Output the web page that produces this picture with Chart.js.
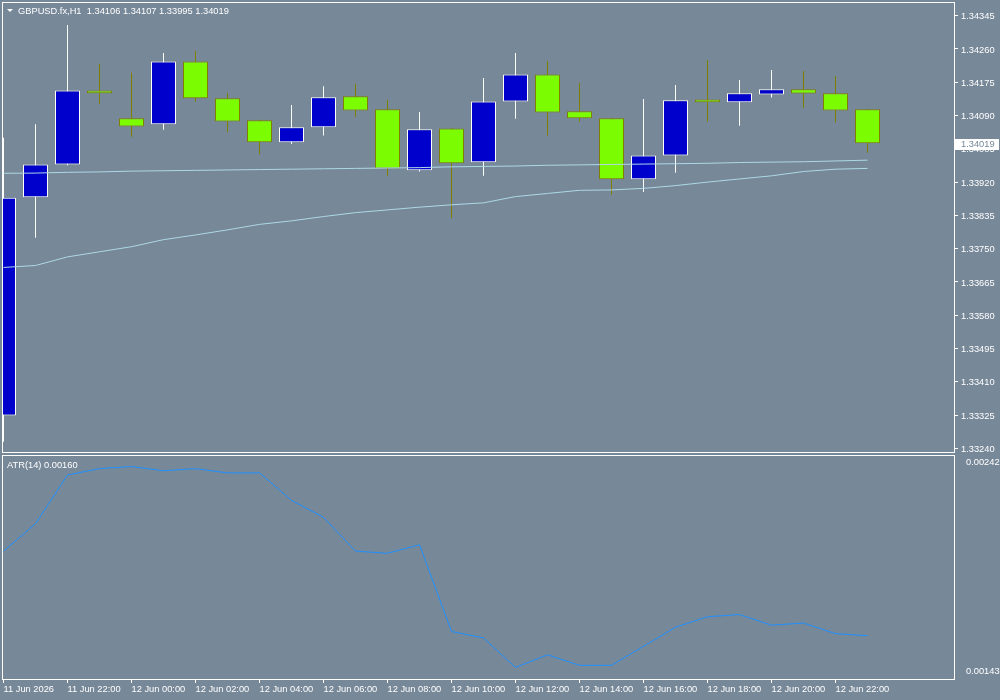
<!DOCTYPE html>
<html>
<head>
<meta charset="utf-8">
<script src="https://cdn.jsdelivr.net/npm/chart.js@4.4.1/dist/chart.umd.min.js"></script>
<style>
  html, body { margin: 0; padding: 0; background: #778899; }
  #wrap { position: relative; width: 1000px; height: 700px; overflow: hidden; }
  #mainCanvas { position: absolute; left: 0; top: 0; }
  #atrCanvas { position: absolute; left: 0; top: 455px; }
</style>
</head>
<body>
<div id="wrap">
  <canvas id="mainCanvas" width="1000" height="455"></canvas>
  <canvas id="atrCanvas" width="1000" height="245"></canvas>
</div>
<script>
// GBPUSD.fx H1, 11 Jun 20:00 .. 12 Jun 23:00
const symbolName = 'GBPUSD.fx,H1';
const openPrices  = [1.33324, 1.33881, 1.33965, 1.34154, 1.34083, 1.34068, 1.34228, 1.34134, 1.34078, 1.34022, 1.34060, 1.34139, 1.34106, 1.33950,
                     1.34057, 1.33971, 1.34126, 1.34195, 1.34101, 1.34083, 1.33927, 1.33988, 1.34131, 1.34124, 1.34144, 1.34157, 1.34147, 1.34106];
const highPrices  = [1.34033, 1.34068, 1.34321, 1.34222, 1.34199, 1.34250, 1.34255, 1.34148, 1.34079, 1.34117, 1.34165, 1.34171, 1.34130, 1.34099,
                     1.34058, 1.34186, 1.34250, 1.34229, 1.34173, 1.34084, 1.34132, 1.34168, 1.34232, 1.34181, 1.34206, 1.34204, 1.34191, 1.34107];
const lowPrices   = [1.33257, 1.33778, 1.33963, 1.34120, 1.34036, 1.34054, 1.34125, 1.34047, 1.33991, 1.34017, 1.34039, 1.34087, 1.33936, 1.33947,
                     1.33828, 1.33936, 1.34082, 1.34039, 1.34074, 1.33888, 1.33895, 1.33944, 1.34074, 1.34064, 1.34136, 1.34110, 1.34072, 1.33995];
const closePrices = [1.33880, 1.33965, 1.34154, 1.34147, 1.34062, 1.34228, 1.34134, 1.34075, 1.34022, 1.34060, 1.34137, 1.34103, 1.33955, 1.34055,
                     1.33968, 1.34126, 1.34195, 1.34098, 1.34083, 1.33927, 1.33988, 1.34129, 1.34124, 1.34147, 1.34157, 1.34146, 1.34103, 1.34019];

// two moving averages (light blue lines)
const maFast = [1.339425, 1.33943, 1.33945, 1.33946, 1.33948, 1.33949, 1.33950, 1.33951, 1.33952, 1.33953, 1.33954, 1.33955, 1.33956, 1.33957,
                1.33959, 1.33960, 1.33961, 1.33963, 1.33964, 1.33965, 1.33966, 1.33967, 1.33968, 1.33970, 1.33971, 1.33972, 1.33974, 1.33976];
const maSlow = [1.33702, 1.33707, 1.33729, 1.33742, 1.33755, 1.33773, 1.33785, 1.33798, 1.33812, 1.33821, 1.33832, 1.33842, 1.33849, 1.33856,
                1.33862, 1.33867, 1.33883, 1.33891, 1.33899, 1.33900, 1.33904, 1.33911, 1.33920, 1.33928, 1.33936, 1.33947, 1.33953, 1.33955];

// ATR(14)
const atrValues = [0.00200, 0.00213, 0.00236, 0.00239, 0.00240, 0.00238, 0.00239, 0.00237, 0.00237, 0.00224, 0.00216, 0.00200, 0.00199, 0.00203,
                   0.00162, 0.00159, 0.00145, 0.00151, 0.00146, 0.00146, 0.00155, 0.00164, 0.00169, 0.00170, 0.00165, 0.00166, 0.00161, 0.00160];

// axis labels
const priceTicks = [1.33240, 1.33325, 1.33410, 1.33495, 1.33580, 1.33665, 1.33750, 1.33835, 1.33920, 1.34005, 1.34090, 1.34175, 1.34260, 1.34345];
const atrTicks = [0.00242, 0.00143];
const timeTickBars = [0, 2, 4, 6, 8, 10, 12, 14, 16, 18, 20, 22, 24, 26];
const timeTickLabels = ['11 Jun 2026', '11 Jun 22:00', '12 Jun 00:00', '12 Jun 02:00', '12 Jun 04:00', '12 Jun 06:00', '12 Jun 08:00',
                        '12 Jun 10:00', '12 Jun 12:00', '12 Jun 14:00', '12 Jun 16:00', '12 Jun 18:00', '12 Jun 20:00', '12 Jun 22:00'];

const FONT = '"Liberation Sans", Arial, sans-serif';
const FONT_SIZE = 9.3;
const BULL_BODY = '#0000CD', BULL_LINE = '#FFFFFF';
const BEAR_BODY = '#7CFC00', BEAR_LINE = '#808000';
const TEXT = '#FFFFFF';

// bar k is drawn at 3.5 + 32k px, plot area goes from 3 to 954
const X_MIN = -0.5 / 32;
const X_MAX = (954 - 3.5) / 32;

const isBull = openPrices.map((o, i) => closePrices[i] >= o);
const bodyData = openPrices.map((o, i) => ({ x: i, y: [o, closePrices[i]] }));
const wickData = lowPrices.map((l, i) => ({ x: i, y: [l, highPrices[i]] }));
const toXY = arr => arr.map((v, i) => ({ x: i, y: v }));

//frame + title text on the price window
const mainDecor = {
  id: 'mainDecor',
  afterDraw(chart) {
    const ctx = chart.ctx;
    const last = openPrices.length - 1;
    ctx.save();
    ctx.strokeStyle = '#FFFFFF';
    ctx.lineWidth = 1;
    ctx.strokeRect(2.5, 2.5, 952, 450);

    // little down triangle
    ctx.fillStyle = TEXT;
    ctx.beginPath();
    ctx.moveTo(7, 9);
    ctx.lineTo(13, 9);
    ctx.lineTo(10, 12);
    ctx.closePath();
    ctx.fill();

    ctx.font = FONT_SIZE + 'px ' + FONT;
    ctx.textBaseline = 'middle';
    ctx.textAlign = 'left';
    const title = symbolName + '  ' + openPrices[last].toFixed(5) + ' ' + highPrices[last].toFixed(5) + ' ' +
                  lowPrices[last].toFixed(5) + ' ' + closePrices[last].toFixed(5);
    ctx.fillText(title, 18, 11);

    // current price box on the axis
    const y = Math.round(chart.scales.y.getPixelForValue(closePrices[last]));
    ctx.fillStyle = '#FFFFFF';
    ctx.fillRect(955, y - 4, 44, 11);
    ctx.fillStyle = '#778899';
    ctx.fillText(closePrices[last].toFixed(5), 961, y + 1.5);
    ctx.restore();
  }
};

const atrDecor = {
  id: 'atrDecor',
  afterDraw(chart) {
    const ctx = chart.ctx;
    ctx.save();
    ctx.strokeStyle = '#FFFFFF';
    ctx.lineWidth = 1;
    ctx.strokeRect(2.5, 0.5, 952, 224);
    ctx.fillStyle = TEXT;
    ctx.font = FONT_SIZE + 'px ' + FONT;
    ctx.textBaseline = 'middle';
    ctx.fillText('ATR(14) ' + atrValues[atrValues.length - 1].toFixed(5), 7, 10);
    ctx.restore();
  }
};

const hiddenX = {
  type: 'linear',
  display: false,
  min: X_MIN,
  max: X_MAX,
  offset: false,
  grid: { offset: false }
};

new Chart(document.getElementById('mainCanvas'), {
  type: 'bar',
  data: {
    datasets: [
      {
        type: 'line',
        data: toXY(maFast),
        borderColor: '#ADD8E6',
        borderWidth: 1,
        pointRadius: 0,
        tension: 0,
        order: 1
      },
      {
        type: 'line',
        data: toXY(maSlow),
        borderColor: '#ADD8E6',
        borderWidth: 1,
        pointRadius: 0,
        tension: 0,
        order: 1
      },
      {
        // candle bodies
        data: bodyData,
        backgroundColor: isBull.map(b => b ? BULL_BODY : BEAR_BODY),
        borderColor: isBull.map(b => b ? BULL_LINE : BEAR_LINE),
        borderWidth: 1,
        borderSkipped: false,
        inflateAmount: 0,
        barThickness: 25,
        grouped: false,
        order: 2
      },
      {
        // wicks
        data: wickData,
        backgroundColor: isBull.map(b => b ? BULL_LINE : BEAR_LINE),
        borderWidth: 0,
        inflateAmount: 0,
        barThickness: 1,
        grouped: false,
        order: 3
      }
    ]
  },
  options: {
    responsive: false,
    animation: false,
    events: [],
    layout: { autoPadding: false, padding: { left: 3, top: 3, right: 0, bottom: 3 } },
    plugins: { legend: { display: false }, tooltip: { enabled: false } },
    scales: {
      x: hiddenX,
      y: {
        position: 'right',
        min: 1.332307,
        max: 1.343774,
        afterBuildTicks: (scale) => { scale.ticks = priceTicks.map(v => ({ value: v })); },
        afterFit: (scale) => { scale.width = 46; scale.paddingTop = 0; scale.paddingBottom = 0; },
        border: { display: false },
        grid: { drawOnChartArea: false, drawTicks: true, tickLength: 4, color: '#FFFFFF' },
        ticks: {
          color: TEXT,
          padding: 3,
          labelOffset: 1,
          font: { family: FONT, size: FONT_SIZE },
          callback: (v) => Number(v).toFixed(5)
        }
      }
    }
  },
  plugins: [mainDecor]
});

new Chart(document.getElementById('atrCanvas'), {
  type: 'line',
  data: {
    datasets: [{
      data: toXY(atrValues),
      borderColor: '#1E90FF',
      borderWidth: 1,
      pointRadius: 0,
      tension: 0
    }]
  },
  options: {
    responsive: false,
    animation: false,
    events: [],
    layout: { autoPadding: false, padding: { left: 3, top: 1, right: 0, bottom: 0 } },
    plugins: { legend: { display: false }, tooltip: { enabled: false } },
    scales: {
      x: {
        type: 'linear',
        position: 'bottom',
        min: X_MIN,
        max: X_MAX,
        offset: false,
        afterBuildTicks: (scale) => { scale.ticks = timeTickBars.map(v => ({ value: v })); },
        afterFit: (scale) => { scale.height = 21; scale.paddingLeft = 0; scale.paddingRight = 0; },
        border: { display: false },
        grid: { drawOnChartArea: false, drawTicks: true, tickLength: 4, color: '#FFFFFF' },
        ticks: {
          color: TEXT,
          align: 'start',
          maxRotation: 0,
          autoSkip: false,
          padding: 1,
          font: { family: FONT, size: FONT_SIZE },
          callback: (v, i) => timeTickLabels[i]
        }
      },
      y: {
        position: 'right',
        min: 0.0013955,
        max: 0.0024498,
        afterBuildTicks: (scale) => { scale.ticks = atrTicks.map(v => ({ value: v })); },
        afterFit: (scale) => { scale.width = 46; scale.paddingTop = 0; scale.paddingBottom = 0; },
        border: { display: false },
        grid: { display: false },
        ticks: {
          color: TEXT,
          padding: 4,
          font: { family: FONT, size: FONT_SIZE },
          callback: (v) => Number(v).toFixed(5)
        }
      }
    }
  },
  plugins: [atrDecor]
});
</script>
</body>
</html>
